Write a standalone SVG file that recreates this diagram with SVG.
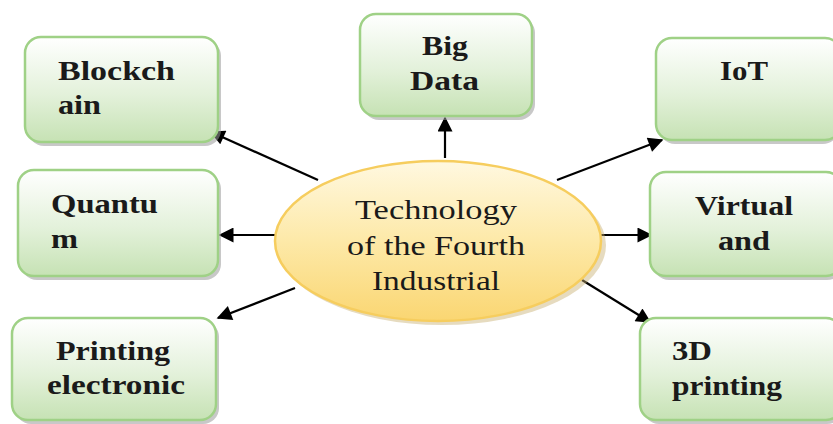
<svg xmlns="http://www.w3.org/2000/svg" width="833" height="424" viewBox="0 0 833 424">
<defs>
<linearGradient id="gBox" x1="0" y1="0" x2="0" y2="1">
<stop offset="0" stop-color="#ffffff"/>
<stop offset="0.55" stop-color="#e3f1da"/>
<stop offset="1" stop-color="#c6e2b4"/>
</linearGradient>
<linearGradient id="gEll" x1="0" y1="0" x2="0" y2="1">
<stop offset="0" stop-color="#fff8e0"/>
<stop offset="0.5" stop-color="#fde9a8"/>
<stop offset="1" stop-color="#fad672"/>
</linearGradient>
<marker id="arrB" viewBox="0 0 10 10" refX="9" refY="5" markerWidth="20" markerHeight="15" orient="auto" markerUnits="userSpaceOnUse">
<path d="M0,0 L10,5 L0,10 z" fill="#000"/>
</marker>
</defs>
<style>
.box{fill:url(#gBox);stroke:#9fd186;stroke-width:2.5}
.sh{fill:#9a9a9a;opacity:0.55}
text{font-family:'Liberation Serif','Times New Roman',Times,Tinos,'Noto Serif','DejaVu Serif',FreeSerif,serif;fill:#1a1a1a;font-size:27px}
.t{font-weight:bold}
.ln{stroke:#000;stroke-width:2.2;fill:none;marker-end:url(#arrB)}
</style>
<rect width="833" height="424" fill="#fff"/>
<g id="connectors">
<line class="ln" x1="318" y1="180" x2="211" y2="132"/>
<line class="ln" x1="445" y1="158" x2="445" y2="118"/>
<line class="ln" x1="557" y1="180" x2="662" y2="140"/>
<line class="ln" x1="276" y1="235" x2="220" y2="235"/>
<line class="ln" x1="600" y1="235" x2="651" y2="235"/>
<line class="ln" x1="295" y1="288" x2="218" y2="318"/>
<line class="ln" x1="582" y1="280" x2="650" y2="322"/>
</g>
<g id="blockchain">
<rect class="sh" x="28" y="40" width="193" height="106" rx="16"/>
<rect class="box" x="25" y="37" width="193" height="105" rx="16"/>
<text class="t" x="58" y="80" textLength="117" lengthAdjust="spacingAndGlyphs">Blockch</text>
<text class="t" x="58" y="114" textLength="43" lengthAdjust="spacingAndGlyphs">ain</text>
</g>
<g id="bigdata">
<rect class="sh" x="363" y="17" width="172" height="103" rx="16"/>
<rect class="box" x="360" y="14" width="172" height="102" rx="16"/>
<text class="t" x="422" y="55" textLength="46" lengthAdjust="spacingAndGlyphs">Big</text>
<text class="t" x="410" y="90" textLength="69" lengthAdjust="spacingAndGlyphs">Data</text>
</g>
<g id="iot">
<rect class="sh" x="659" y="41" width="180" height="103" rx="16"/>
<rect class="box" x="656" y="38" width="185" height="102" rx="16"/>
<text class="t" x="720" y="80" textLength="48" lengthAdjust="spacingAndGlyphs">IoT</text>
</g>
<g id="quantum">
<rect class="sh" x="21" y="173" width="200" height="107" rx="16"/>
<rect class="box" x="18" y="170" width="200" height="106" rx="16"/>
<text class="t" x="51" y="213" textLength="107" lengthAdjust="spacingAndGlyphs">Quantu</text>
<text class="t" x="51" y="248" textLength="27" lengthAdjust="spacingAndGlyphs">m</text>
</g>
<g id="virtual">
<rect class="sh" x="653" y="175" width="190" height="105" rx="16"/>
<rect class="box" x="650" y="172" width="192" height="104" rx="16"/>
<text class="t" x="695" y="215" textLength="98" lengthAdjust="spacingAndGlyphs">Virtual</text>
<text class="t" x="718" y="250" textLength="52" lengthAdjust="spacingAndGlyphs">and</text>
</g>
<g id="printing-electronic">
<rect class="sh" x="15" y="321" width="204" height="103" rx="16"/>
<rect class="box" x="12" y="318" width="204" height="102" rx="16"/>
<text class="t" x="56" y="360" textLength="114" lengthAdjust="spacingAndGlyphs">Printing</text>
<text class="t" x="47" y="394" textLength="138" lengthAdjust="spacingAndGlyphs">electronic</text>
</g>
<g id="printing-3d">
<rect class="sh" x="643" y="321" width="200" height="103" rx="16"/>
<rect class="box" x="640" y="318" width="202" height="102" rx="16"/>
<text class="t" x="672" y="360" textLength="40" lengthAdjust="spacingAndGlyphs">3D</text>
<text class="t" x="672" y="395" textLength="110" lengthAdjust="spacingAndGlyphs">printing</text>
</g>
<g id="center">
<ellipse cx="442" cy="245" rx="164" ry="80" fill="#c8b070" opacity="0.45"/>
<ellipse cx="438" cy="241" rx="163" ry="80" fill="url(#gEll)" stroke="#f6cd5e" stroke-width="2.5"/>
<text x="355" y="219" textLength="162" lengthAdjust="spacingAndGlyphs">Technology</text>
<text x="347" y="255" textLength="178" lengthAdjust="spacingAndGlyphs">of the Fourth</text>
<text x="372" y="290" textLength="128" lengthAdjust="spacingAndGlyphs">Industrial</text>
</g>
</svg>
